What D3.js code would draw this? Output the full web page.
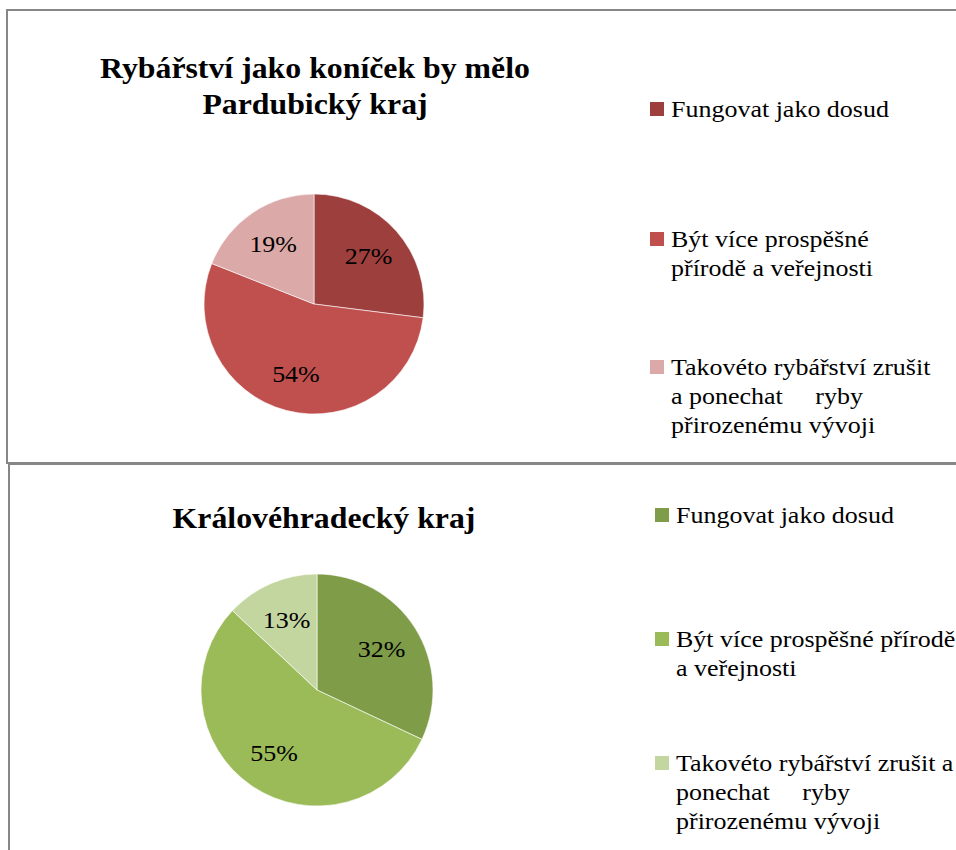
<!DOCTYPE html>
<html>
<head>
<meta charset="utf-8">
<script src="https://d3js.org/d3.v7.min.js"></script>
<style>
  body { margin: 0; background: #fff; }
</style>
</head>
<body>
<svg width="956" height="850"></svg>
<script>
// legend categories, shared by both charts
const categories = ["Fungovat jako dosud", "Být více prospěšné přírodě a veřejnosti", "Takovéto rybářství zrušit a ponechat ryby přirozenému vývoji"];

// percentages per region
const pardubiceValues = [27, 54, 19];
const hradecValues = [32, 55, 13];

const pardubiceTitle = ["Rybářství jako koníček by mělo", "Pardubický kraj"];
const hradecTitle = ["Královéhradecký kraj"];

// legend text as it wraps in each panel
const pardubiceLegend = [["Fungovat jako dosud"], ["Být více prospěšné", "přírodě a veřejnosti"], ["Takovéto rybářství zrušit", "a ponechat\u00a0\u00a0\u00a0\u00a0\u00a0ryby", "přirozenému vývoji"]];
const hradecLegend = [["Fungovat jako dosud"], ["Být více prospěšné přírodě", "a veřejnosti"], ["Takovéto rybářství zrušit a", "ponechat\u00a0\u00a0\u00a0\u00a0\u00a0ryby", "přirozenému vývoji"]];

const redColors = ["#9c3f3d", "#c0504d", "#dba9a8"];
const greenColors = ["#7f9c48", "#9bbb59", "#c4d6a0"];

const fontFamily = '"Liberation Serif", "Times New Roman", serif';
const stretch = 1.13;      // the exported text is a bit wider than plain Times
const titleStretch = 1.06;

const svg = d3.select("svg");

// panel frames
svg.append("rect")
    .attr("x", 7).attr("y", 10)
    .attr("width", 1000).attr("height", 453)
    .attr("fill", "none").attr("stroke", "#878787").attr("stroke-width", 2);
svg.append("rect")
    .attr("x", 9).attr("y", 464)
    .attr("width", 1000).attr("height", 500)
    .attr("fill", "none").attr("stroke", "#878787").attr("stroke-width", 2);

function drawPanel(opts) {
    const g = svg.append("g");

    // title
    opts.title.forEach((line, i) => {
        g.append("text")
            .attr("transform", `translate(${opts.titleX},${opts.titleY + i * 36}) scale(${titleStretch},1)`)
            .attr("text-anchor", "middle")
            .style("font-family", fontFamily)
            .style("font-weight", "bold")
            .style("font-size", "30px")
            .attr("fill", "#000")
            .text(line);
    });

    // pie
    const pie = d3.pie().sort(null).value(d => d);
    const arcs = pie(opts.values);
    const arc = d3.arc().innerRadius(0).outerRadius(opts.r);
    const labelArc = d3.arc().innerRadius(opts.r * 0.66).outerRadius(opts.r * 0.66);
    const color = d3.scaleOrdinal().domain(d3.range(opts.values.length)).range(opts.colors);

    const pg = g.append("g").attr("transform", `translate(${opts.cx},${opts.cy})`);
    pg.selectAll("path")
        .data(arcs)
        .join("path")
        .attr("d", arc)
        .attr("fill", (d, i) => color(i))
        .attr("stroke", "#fff")
        .attr("stroke-width", 0.6);

    pg.selectAll("text")
        .data(arcs)
        .join("text")
        .attr("transform", d => `translate(${labelArc.centroid(d)}) scale(${stretch},1)`)
        .attr("text-anchor", "middle")
        .attr("dy", "0.35em")
        .style("font-family", fontFamily)
        .style("font-size", "23px")
        .attr("fill", "#000")
        .text(d => d.data + "%");

    // legend
    opts.legendY.forEach((y, i) => {
        g.append("rect")
            .attr("x", opts.legendX)
            .attr("y", y - 15)
            .attr("width", 14).attr("height", 14)
            .attr("fill", color(i));
        opts.legend[i].forEach((line, j) => {
            g.append("text")
                .attr("transform", `translate(${opts.legendX + 21},${y + j * 29}) scale(${stretch},1)`)
                .style("font-family", fontFamily)
                .style("font-size", "23px")
                .attr("fill", "#000")
                .text(line);
        });
    });
}

drawPanel({
    title: pardubiceTitle, titleX: 315, titleY: 78,
    values: pardubiceValues, colors: redColors,
    cx: 314, cy: 304, r: 110,
    legend: pardubiceLegend, legendX: 650, legendY: [117, 247, 375]
});

drawPanel({
    title: hradecTitle, titleX: 324, titleY: 528,
    values: hradecValues, colors: greenColors,
    cx: 317, cy: 690, r: 116,
    legend: hradecLegend, legendX: 655, legendY: [523, 647, 771]
});
</script>
</body>
</html>
